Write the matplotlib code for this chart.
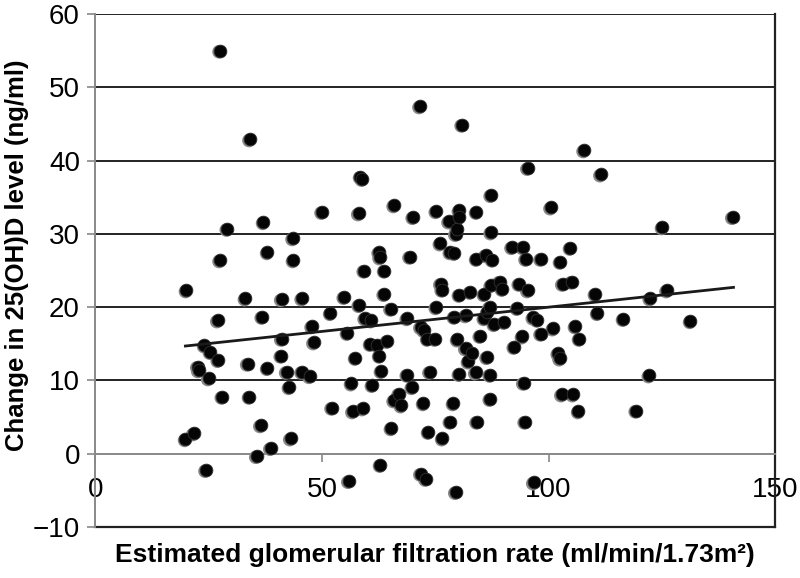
import numpy as np
import matplotlib.pyplot as plt
import matplotlib.transforms as mtransforms

# eGFR (ml/min/1.73m2) vs change in 25(OH)D (ng/ml)
egfr = [19.9, 20.1, 21.7, 22.6, 22.8, 24.1, 24.4, 25.4, 25.0, 27.0,
        27.1, 27.5, 27.5, 28.0, 29.1, 33.1, 33.6, 34.0, 34.1, 35.6,
        36.5, 36.8, 37.1, 38.0, 38.0, 38.7, 41.1, 41.1, 41.0, 42.2,
        42.8, 43.1, 43.6, 43.7, 45.6, 45.6, 47.3, 47.8, 48.2, 50.0,
        51.9, 52.2, 54.9, 55.6, 55.9, 56.5, 56.8, 57.4, 58.1, 58.2,
        58.5, 58.9, 59.0, 59.3, 59.5, 60.9, 60.7, 61.1, 62.2, 62.6,
        62.8, 62.7, 62.9, 63.1, 63.7, 63.8, 64.4, 65.2, 65.3, 65.9,
        65.9, 67.0, 67.5, 68.8, 68.8, 69.4, 69.9, 70.1, 71.6, 71.8,
        72.5, 71.8, 72.9, 72.4, 73.3, 73.5, 73.8, 74.9, 75.2, 75.2,
        76.1, 76.2, 76.5, 76.6, 78.0, 78.3, 78.3, 79.0, 79.2, 79.2,
        79.5, 79.8, 79.5, 79.9, 80.3, 80.3, 80.3, 80.3, 80.9, 81.7,
        81.7, 82.3, 82.7, 83.2, 83.9, 84.1, 84.1, 84.2, 84.9, 85.8,
        85.8, 86.1, 86.4, 86.5, 87.0, 87.1, 87.1, 87.3, 87.3, 87.3,
        87.6, 88.0, 89.2, 89.8, 90.2, 91.9, 92.4, 93.1, 93.5, 94.2,
        94.3, 94.5, 94.8, 95.0, 95.4, 95.4, 96.6, 96.7, 97.5, 98.3,
        98.3, 100.5, 101.0, 102.1, 102.5, 102.6, 102.9, 103.1, 104.8, 105.1,
        105.4, 105.9, 106.8, 106.6, 107.8, 110.3, 110.8, 111.5, 116.5, 119.3,
        122.2, 122.4, 125.1, 126.1, 131.3, 140.6]
change = [2.0, 22.3, 2.8, 11.9, 11.4, 14.8, -2.2, 13.9, 10.3, 18.2,
          12.8, 26.4, 55.0, 7.8, 30.7, 21.2, 12.3, 7.8, 42.9, -0.3,
          3.9, 18.7, 31.6, 27.5, 11.7, 0.8, 21.1, 15.7, 13.4, 11.2,
          9.1, 2.1, 29.4, 26.4, 21.2, 11.2, 10.6, 17.4, 15.2, 33.0,
          19.2, 6.3, 21.4, 16.5, -3.7, 9.6, 5.8, 13.1, 32.8, 20.3,
          37.8, 37.5, 6.2, 25.0, 18.5, 18.2, 15.0, 9.4, 14.9, 27.5,
          26.8, 13.4, -1.5, 11.3, 21.8, 25.0, 15.4, 19.8, 3.5, 33.9,
          7.3, 8.2, 6.6, 18.5, 10.8, 26.9, 9.1, 32.3, 47.4, 17.3,
          16.9, -2.7, -3.4, 6.9, 15.7, 3.0, 11.2, 15.7, 33.1, 20.0,
          28.7, 23.2, 22.4, 2.1, 31.7, 27.5, 4.4, 6.9, 27.4, 18.7,
          30.0, 30.6, -5.2, 15.6, 33.2, 32.3, 21.7, 10.9, 44.9, 18.9,
          14.4, 12.6, 22.1, 13.7, 11.1, 33.0, 26.6, 4.4, 16.1, 21.8,
          18.5, 27.1, 13.2, 19.3, 20.0, 10.8, 7.5, 35.3, 30.2, 23.0,
          26.5, 17.7, 23.5, 22.5, 18.0, 28.2, 14.6, 19.9, 23.2, 16.0,
          28.2, 9.7, 4.4, 26.6, 22.3, 39.0, 18.6, -3.9, 18.3, 26.6,
          16.4, 33.6, 17.1, 13.7, 13.0, 26.2, 8.1, 23.2, 28.1, 23.5,
          8.1, 17.4, 15.7, 5.8, 41.4, 21.8, 19.2, 38.1, 18.4, 5.9,
          10.7, 21.2, 30.9, 22.3, 18.1, 32.3]

# linear trend line as drawn in the figure
trend_x = [19.9, 140.8]
trend_y = [14.7, 22.7]

x_ticks = [0, 50, 100, 150]
y_ticks = [-10, 0, 10, 20, 30, 40, 50, 60]

plt.rcParams['font.family'] = ['Liberation Sans', 'DejaVu Sans']

fig = plt.figure(figsize=(8, 5.78), dpi=100)
ax = fig.add_axes([0.119, 0.088, 0.85, 0.888])

for y in y_ticks[2:]:
    ax.axhline(y, color='#222222', lw=1.4, zorder=1)
ax.axhline(-10, color='#222222', lw=1.6, zorder=1, clip_on=False)

# gray shadow under each dot, then the black dot
shadow = mtransforms.offset_copy(ax.transData, fig=fig, x=-0.6, y=-0.9, units='points')
ax.scatter(egfr, change, s=96, color='#8a8a8a', edgecolors='none', transform=shadow, zorder=3)
ax.scatter(egfr, change, s=84, color='#050505', edgecolors='#333333', linewidths=0.6, zorder=4)

ax.plot(trend_x, trend_y, color='#1a1a1a', lw=2.0, zorder=5)

ax.set_xlim(0, 150)
ax.set_ylim(-10, 60)
ax.set_xticks(x_ticks)
ax.set_yticks(y_ticks)

ax.spines['top'].set_visible(False)
ax.spines['bottom'].set_position(('data', 0))
ax.spines['bottom'].set_color('#888888')
ax.spines['bottom'].set_linewidth(1.4)
ax.spines['left'].set_color('#888888')
ax.spines['left'].set_linewidth(1.4)
ax.spines['right'].set_color('#222222')
ax.spines['right'].set_linewidth(1.6)

ax.tick_params(axis='x', direction='out', length=6, width=1.2, color='#888888',
               pad=11, labelsize=20)
ax.tick_params(axis='y', direction='out', length=6, width=1.2, color='#888888',
               pad=5, labelsize=20)

ax.set_ylabel('Change in 25(OH)D level (ng/ml)', fontsize=18.5, fontweight='bold')
ax.yaxis.set_label_coords(-0.097, 0.53)
ax.set_xlabel('Estimated glomerular filtration rate (ml/min/1.73m²)',
              fontsize=19, fontweight='bold')
ax.xaxis.set_label_coords(0.5, -0.03)

fig.savefig('out.png', dpi=100)
